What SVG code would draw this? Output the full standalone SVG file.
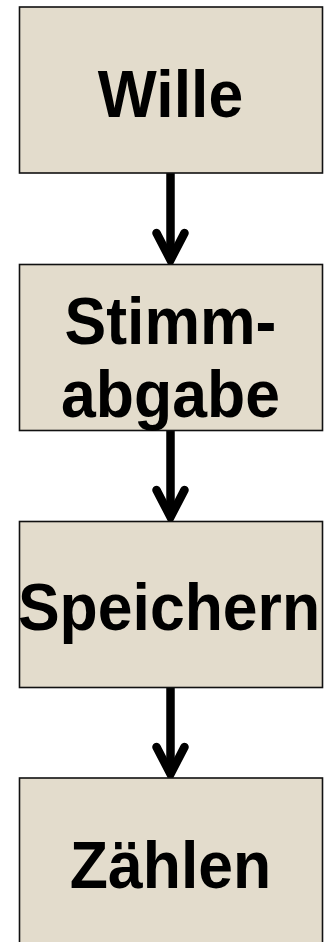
<svg xmlns="http://www.w3.org/2000/svg" width="327" height="942" viewBox="0 0 327 942">
  <style>
    .box { fill: #E3DCCC; stroke: #111; stroke-width: 1.6; }
    .label { font-family: "Liberation Sans", Arial, sans-serif; font-weight: bold; font-size: 62.5px; fill: #000; text-anchor: middle; }
    .shaft { stroke: #000; stroke-width: 8.5; fill: none; }
    .head { stroke: #000; stroke-width: 8.5; fill: none; stroke-linecap: round; stroke-linejoin: miter; }
  </style>
  <rect width="327" height="942" fill="#fff"/>

  <g id="connectors">
    <line class="shaft" x1="170.5" y1="173" x2="170.5" y2="258"/>
    <polyline class="head" points="156.5,233 170.5,260 184.5,233"/>
    <line class="shaft" x1="170.5" y1="431" x2="170.5" y2="515"/>
    <polyline class="head" points="156.5,490 170.5,517 184.5,490"/>
    <line class="shaft" x1="170.5" y1="688" x2="170.5" y2="772"/>
    <polyline class="head" points="156.5,747 170.5,774 184.5,747"/>
  </g>

  <!-- labels are stretched slightly in height -->
  <g id="wille">
    <rect class="box" x="19.5" y="7" width="303" height="166"/>
    <text class="label" transform="translate(170.5,117) scale(1,1.07)">Wille</text>
  </g>
  <g id="stimmabgabe">
    <rect class="box" x="19.5" y="264.5" width="303" height="166"/>
    <text class="label" transform="translate(170.5,344) scale(1,1.07)">Stimm-</text>
    <text class="label" transform="translate(170.5,416.5) scale(1,1.07)">abgabe</text>
  </g>
  <g id="speichern">
    <rect class="box" x="19.5" y="521.5" width="303" height="166"/>
    <text class="label" transform="translate(169,630) scale(1,1.07)">Speichern</text>
  </g>
  <g id="zaehlen">
    <rect class="box" x="19.5" y="778" width="303" height="166"/>
    <text class="label" transform="translate(170.5,888) scale(1,1.07)">Zählen</text>
  </g>
</svg>
